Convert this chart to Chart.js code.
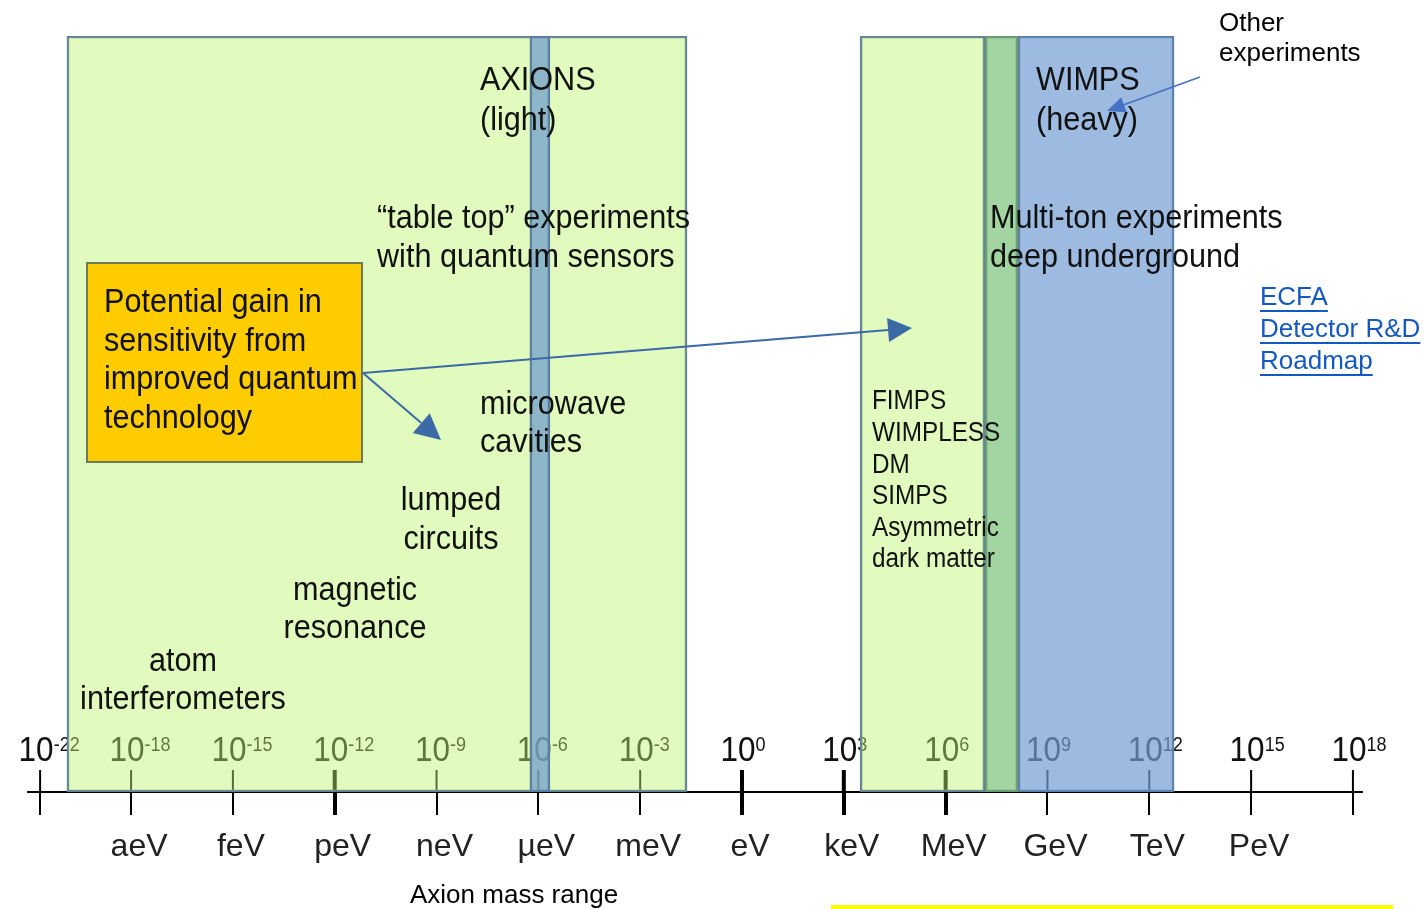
<!DOCTYPE html>
<html>
<head>
<meta charset="utf-8">
<title>Dark matter mass range</title>
<script src="https://cdn.jsdelivr.net/npm/chart.js@4.4.1/dist/chart.umd.min.js"></script>
<style>
  html, body { margin: 0; padding: 0; background: #fff; overflow: hidden; }
  #wrap { width: 1424px; height: 909px; position: relative; }
</style>
</head>
<body>
<div id="wrap"><canvas id="massChart"></canvas></div>
<script>
// x axis is log10(mass / eV); the left end tick carries the "10^-22" label of the original
const tickPos = [-20.68, -18, -15, -12, -9, -6, -3, 0, 3, 6, 9, 12, 15, 18];
const tickExp = ['-22', '-18', '-15', '-12', '-9', '-6', '-3', '0', '3', '6', '9', '12', '15', '18'];
const unitLabels = ['', 'aeV', 'feV', 'peV', 'neV', 'µeV', 'meV', 'eV', 'keV', 'MeV', 'GeV', 'TeV', 'PeV', ''];
const boldTicks = [-12, 0, 3, 6];

// mass bands, log10(eV) from -> to
const bandNames = ['Axions (light)', 'Microwave cavities', 'FIMPS / SIMPS', 'Light WIMPS', 'WIMPS (heavy)'];
const bandRanges = [[-19.89, -1.62], [-6.25, -5.66], [3.48, 7.16], [7.16, 8.13], [8.13, 12.73]];

const bandFill = [
   'rgba(187, 246, 109, 0.45)',
   'rgba(110, 155, 205, 0.72)',
   'rgba(187, 246, 109, 0.45)',
   'rgba(100, 185, 100, 0.6)',
   'rgba(115, 158, 211, 0.7)'
];
const bandBorder = ['#62809a', '#5b7d9c', '#62809a', '#6f9a78', '#5b7fa6'];
const bandOrder = [2, 1, 1, 1, 1];

const FONT = '"Liberation Sans", Arial, sans-serif';
const NARROW = 0.9;

/* ---------------------------------------------------------------------------------*/
/* Text and arrows laid over the bands (page pixels) */
/* ---------------------------------------------------------------------------------*/
const notes = [
   { text: 'AXIONS', x: 480, y: 81 },
   { text: '(light)', x: 480, y: 121 },
   { text: 'WIMPS', x: 1036, y: 81 },
   { text: '(heavy)', x: 1036, y: 121 },
   { text: '\u201Ctable top\u201D experiments', x: 377, y: 219 },
   { text: 'with quantum sensors', x: 377, y: 258 },
   { text: 'Multi-ton experiments', x: 990, y: 219 },
   { text: 'deep underground', x: 990, y: 258 },
   { text: 'microwave', x: 480, y: 405 },
   { text: 'cavities', x: 480, y: 443 },
   { text: 'lumped', x: 451, y: 501, align: 'center' },
   { text: 'circuits', x: 451, y: 540, align: 'center' },
   { text: 'magnetic', x: 355, y: 591, align: 'center' },
   { text: 'resonance', x: 355, y: 629, align: 'center' },
   { text: 'atom', x: 183, y: 662, align: 'center' },
   { text: 'interferometers', x: 183, y: 700, align: 'center' }
];
const lightDM = ['FIMPS', 'WIMPLESS', 'DM', 'SIMPS', 'Asymmetric', 'dark matter'];
const gainLines = ['Potential gain in', 'sensitivity from', 'improved quantum', 'technology'];
const linkLines = ['ECFA', 'Detector R&D', 'Roadmap'];

// Draw text squeezed horizontally, like the narrow font of the original slide
const narrowText = (ctx, text, x, y, align) => {
   ctx.save();
   ctx.translate(x, y);
   ctx.scale(NARROW, 1);
   ctx.textAlign = align || 'left';
   ctx.fillText(text, 0, 0);
   ctx.restore();
};

// Draw a straight arrow with a filled head
const arrow = (ctx, x1, y1, x2, y2, head, halfW, lw, color) => {
   const a = Math.atan2(y2 - y1, x2 - x1);
   const bx = x2 - head * Math.cos(a), by = y2 - head * Math.sin(a);
   ctx.strokeStyle = color;
   ctx.fillStyle = color;
   ctx.lineWidth = lw;
   ctx.beginPath();
   ctx.moveTo(x1, y1);
   ctx.lineTo(bx, by);
   ctx.stroke();
   ctx.beginPath();
   ctx.moveTo(x2, y2);
   ctx.lineTo(bx + halfW * Math.sin(a), by - halfW * Math.cos(a));
   ctx.lineTo(bx - halfW * Math.sin(a), by + halfW * Math.cos(a));
   ctx.closePath();
   ctx.fill();
};

const diagram = {
   id: 'diagram',
   beforeDatasetsDraw(chart) {
      const { ctx, chartArea } = chart;
      const x = chart.scales.x;
      const yAxis = chartArea.bottom;
      ctx.save();

      // axis line
      ctx.strokeStyle = '#000';
      ctx.lineWidth = 2;
      ctx.beginPath();
      ctx.moveTo(x.getPixelForValue(tickPos[0]) - 13, yAxis);
      ctx.lineTo(x.getPixelForValue(tickPos[tickPos.length - 1]) + 10, yAxis);
      ctx.stroke();

      tickPos.forEach((v, i) => {
         const px = x.getPixelForValue(v);

         // upper half of the tick mark (lower half is the scale's own tick)
         ctx.strokeStyle = '#000';
         ctx.lineWidth = boldTicks.includes(v) ? 4 : 2;
         ctx.beginPath();
         ctx.moveTo(px, yAxis - 22);
         ctx.lineTo(px, yAxis);
         ctx.stroke();

         // 10^n label above the axis
         ctx.fillStyle = '#111';
         ctx.textBaseline = 'middle';
         ctx.font = '35px ' + FONT;
         const cx = px - 4;
         narrowText(ctx, '10', cx, yAxis - 41, 'center');
         const w = ctx.measureText('10').width * NARROW;
         ctx.font = '20px ' + FONT;
         narrowText(ctx, tickExp[i], cx + w / 2, yAxis - 47, 'left');
      });
      ctx.restore();
   },
   afterDatasetsDraw(chart) {
      const { ctx } = chart;
      ctx.save();
      ctx.textBaseline = 'middle';

      // labels in the bands
      ctx.fillStyle = '#111';
      ctx.font = '34px ' + FONT;
      notes.forEach(n => narrowText(ctx, n.text, n.x, n.y, n.align));

      ctx.textAlign = 'left';
      ctx.font = '27px ' + FONT;
      lightDM.forEach((t, i) => narrowText(ctx, t, 872, 402 + i * 31.6));

      // quantum technology box
      ctx.fillStyle = '#ffcc00';
      ctx.fillRect(87, 263, 275, 199);
      ctx.strokeStyle = '#6f7a5c';
      ctx.lineWidth = 2;
      ctx.strokeRect(87, 263, 275, 199);
      ctx.fillStyle = '#111';
      ctx.font = '34px ' + FONT;
      gainLines.forEach((t, i) => narrowText(ctx, t, 104, 303 + i * 38.5));

      // arrows from the box
      arrow(ctx, 363, 373, 912, 328, 24, 12, 2, '#3b6aa6');
      arrow(ctx, 363, 373, 441, 440, 26, 13, 2, '#3b6aa6');
      arrow(ctx, 1200, 77, 1107, 111, 18, 8, 1.5, '#4472c4');

      // side notes
      ctx.textAlign = 'left';
      ctx.fillStyle = '#000';
      ctx.font = '26px ' + FONT;
      ctx.fillText('Other', 1219, 24);
      ctx.fillText('experiments', 1219, 54);
      ctx.fillText('Axion mass range', 410, 896);

      ctx.fillStyle = '#1558c0';
      ctx.strokeStyle = '#1558c0';
      ctx.lineWidth = 2;
      linkLines.forEach((t, i) => {
         const y = 298 + i * 32;
         ctx.fillText(t, 1260, y);
         const w = ctx.measureText(t).width;
         ctx.beginPath();
         ctx.moveTo(1260, y + 13);
         ctx.lineTo(1260 + w, y + 13);
         ctx.stroke();
      });

      // yellow underline at the bottom
      ctx.fillStyle = '#ffff00';
      ctx.fillRect(831, 905, 562, 4);
      ctx.restore();
   }
};

/* ---------------------------------------------------------------------------------*/
/* Chart */
/* ---------------------------------------------------------------------------------*/
const ctx = document.querySelector('#massChart');

const data = {
   labels: ['mass'],
   datasets: bandNames.map((name, i) => ({
      label: name,
      data: [bandRanges[i]],
      backgroundColor: bandFill[i],
      borderColor: bandBorder[i],
      borderWidth: 2,
      borderSkipped: false,
      barPercentage: 1,
      categoryPercentage: 1,
      grouped: false,
      order: bandOrder[i]
   }))
};

const config = {
   type: 'bar',
   data: data,
   options: {
      indexAxis: 'y',
      responsive: true,
      maintainAspectRatio: false,
      animation: false,
      events: [],
      layout: { padding: { top: 36, left: 0, right: 0, bottom: 0 } },
      scales: {
         x: {
            type: 'linear',
            min: -21.862,
            max: 20.094,
            afterBuildTicks: s => { s.ticks = tickPos.map(v => ({ value: v })); },
            afterFit: s => { s.height = 117; },
            border: { display: false },
            grid: {
               drawOnChartArea: false,
               drawTicks: true,
               tickLength: 23,
               color: '#000',
               lineWidth: c => (c.tick && boldTicks.includes(c.tick.value)) ? 4 : 2
            },
            ticks: {
               autoSkip: false,
               maxRotation: 0,
               padding: 13,
               labelOffset: 8,
               color: '#222',
               font: { family: FONT, size: 32 },
               callback: (v, i) => unitLabels[i]
            }
         },
         y: { display: false }
      },
      plugins: {
         legend: { display: false },
         tooltip: { enabled: false }
      }
   },
   plugins: [diagram]
};

const massChart = new Chart(ctx, config);
</script>
</body>
</html>
